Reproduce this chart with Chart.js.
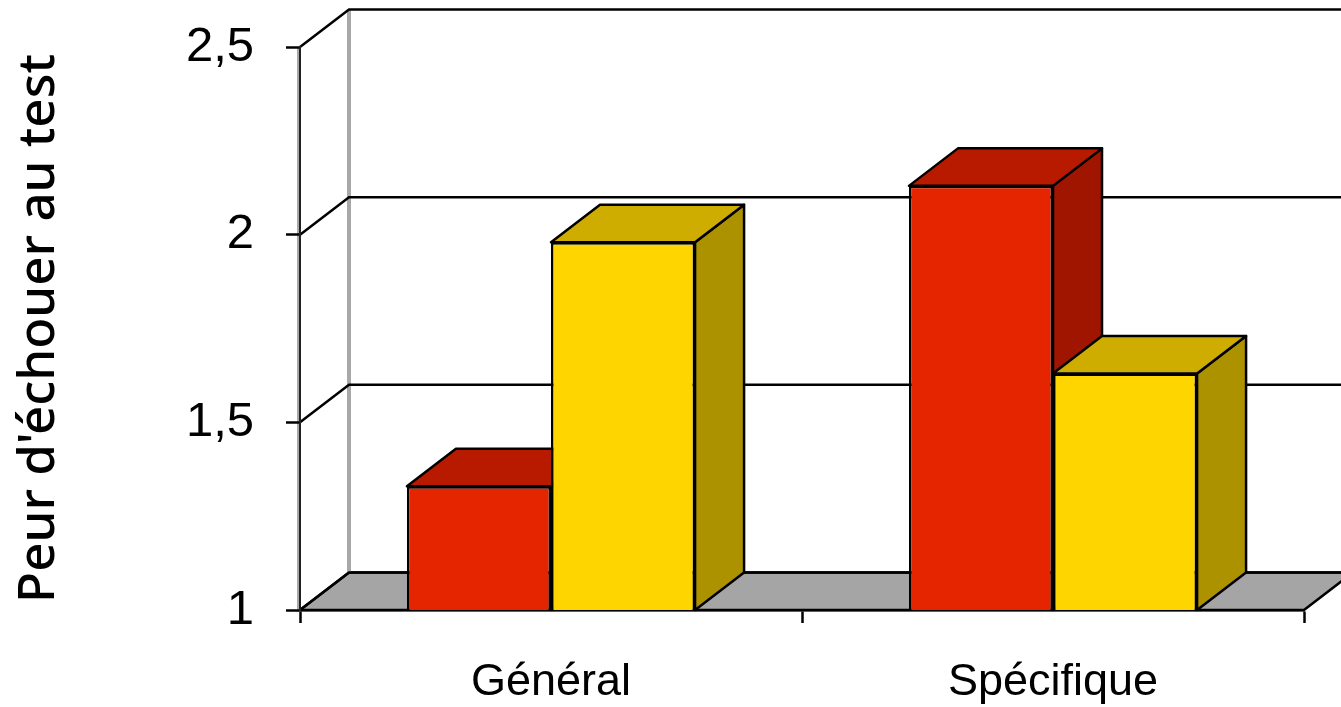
<!DOCTYPE html>
<html>
<head>
<meta charset="utf-8">
<style>
  html, body { margin: 0; padding: 0; background: #fff; overflow: hidden; }
  canvas { display: block; }
</style>
<script src="https://cdn.jsdelivr.net/npm/chart.js@4"></script>
</head>
<body>
<canvas id="myChart" width="1341" height="707"></canvas>
<script>
// data
const categories = ["Général", "Spécifique"];
const redValues = [1.33, 2.13];
const yellowValues = [1.98, 1.63];
const tickValues = [1, 1.5, 2, 2.5];
const tickLabels = ["1", "1,5", "2", "2,5"];
const axisTitle = "Peur d'échouer au test";

// depth of the fake 3d box, in pixels
const depthX = 49;
const depthY = -37.5;

function poly(ctx, pts, fill) {
  ctx.beginPath();
  pts.forEach((p, i) => (i ? ctx.lineTo(p[0], p[1]) : ctx.moveTo(p[0], p[1])));
  ctx.closePath();
  if (fill) {
    ctx.fillStyle = fill;
    ctx.fill();
  }
  ctx.stroke();
}

// back wall and floor, below the axes
const wallPlugin = {
  id: "wall_and_floor",
  beforeDraw: (chart) => {
    const { ctx, chartArea, scales } = chart;
    const { left, right, bottom } = chartArea;
    ctx.save();
    ctx.lineWidth = 2.5;
    ctx.strokeStyle = "#000";
    poly(ctx, [
      [left, bottom],
      [left + depthX, bottom + depthY],
      [right + depthX, bottom + depthY],
      [right, bottom],
    ], "#a5a5a5");

    // shaded verticals
    ctx.strokeStyle = "#a8a8a8";
    ctx.lineWidth = 4;
    [left - 1, left + depthX].forEach((x) => {
      ctx.beginPath();
      ctx.moveTo(x, scales.y.getPixelForValue(2.5) + (x > left ? depthY : 0));
      ctx.lineTo(x, bottom + (x > left ? depthY : 0));
      ctx.stroke();
    });

    // back grid lines and the slanted lines from each tick
    ctx.strokeStyle = "#000";
    ctx.lineWidth = 2.5;
    tickValues.forEach((v) => {
      const y = scales.y.getPixelForValue(v);
      ctx.beginPath();
      ctx.moveTo(left, y);
      ctx.lineTo(left + depthX, y + depthY);
      ctx.lineTo(right + depthX, y + depthY);
      ctx.stroke();
    });
    ctx.restore();
  },
  // side and top of every bar, the fronts come after from the library
  beforeDatasetsDraw: (chart) => {
    const { ctx, chartArea } = chart;
    ctx.save();
    ctx.lineWidth = 2.5;
    ctx.lineJoin = "round";
    ctx.strokeStyle = "#000";
    chart.data.datasets.forEach((ds, i) => {
      chart.getDatasetMeta(i).data.forEach((bar) => {
        const l = bar.x - bar.width / 2;
        const r = bar.x + bar.width / 2;
        const t = bar.y;
        const b = Math.min(bar.base, chartArea.bottom);
        poly(ctx, [
          [r, b],
          [r + depthX, b + depthY],
          [r + depthX, t + depthY],
          [r, t],
        ], ds.sideColor);
        poly(ctx, [
          [l, t],
          [l + depthX, t + depthY],
          [r + depthX, t + depthY],
          [r, t],
        ], ds.topColor);
      });
    });
    ctx.restore();
  },
};

const data = {
  labels: categories,
  datasets: [
    {
      label: "Rouge",
      data: redValues,
      backgroundColor: "#e52500",
      topColor: "#b81a00",
      sideColor: "#a01500",
      borderColor: "#000",
      borderWidth: 2.5,
      borderSkipped: false,
      categoryPercentage: 0.574,
      barPercentage: 1,
    },
    {
      label: "Jaune",
      data: yellowValues,
      backgroundColor: "#ffd500",
      topColor: "#ceac00",
      sideColor: "#ad9200",
      borderColor: "#000",
      borderWidth: 2.5,
      borderSkipped: false,
      categoryPercentage: 0.574,
      barPercentage: 1,
    },
  ],
};

const config = {
  type: "bar",
  data,
  plugins: [wallPlugin],
  options: {
    responsive: false,
    animation: false,
    layout: { padding: { top: 47, right: 37, left: 0, bottom: 0 } },
    plugins: {
      legend: { display: false },
      tooltip: { enabled: false },
    },
    scales: {
      x: {
        afterFit: (scale) => { scale.height = 97; },
        grid: {
          drawOnChartArea: false,
          tickLength: 13,
          tickColor: "#000",
          tickWidth: 2.5,
        },
        border: { color: "#000", width: 2.5 },
        ticks: {
          color: "#000",
          padding: 33,
          maxRotation: 0,
          font: { family: "Liberation Sans", size: 45 },
        },
      },
      y: {
        min: 1,
        max: 2.5,
        afterFit: (scale) => {
          scale.width = 300;
          scale.paddingTop = 0;
          scale.paddingBottom = 0;
        },
        afterBuildTicks: (scale) => {
          scale.ticks = tickValues.map((v) => ({ value: v }));
        },
        grid: {
          drawOnChartArea: false,
          tickLength: 14,
          tickColor: "#000",
          tickWidth: 2.5,
        },
        border: { color: "#222", width: 2 },
        ticks: {
          color: "#000",
          padding: 32,
          font: { family: "Liberation Sans", size: 49 },
          callback: (value) => tickLabels[tickValues.indexOf(value)],
        },
        title: {
          display: true,
          text: axisTitle,
          color: "#000",
          padding: { top: 9, bottom: 0 },
          font: { family: "Noto Sans", size: 51, weight: "500" },
        },
      },
    },
  },
};

const myChart = new Chart(document.getElementById("myChart"), config);
</script>
</body>
</html>
